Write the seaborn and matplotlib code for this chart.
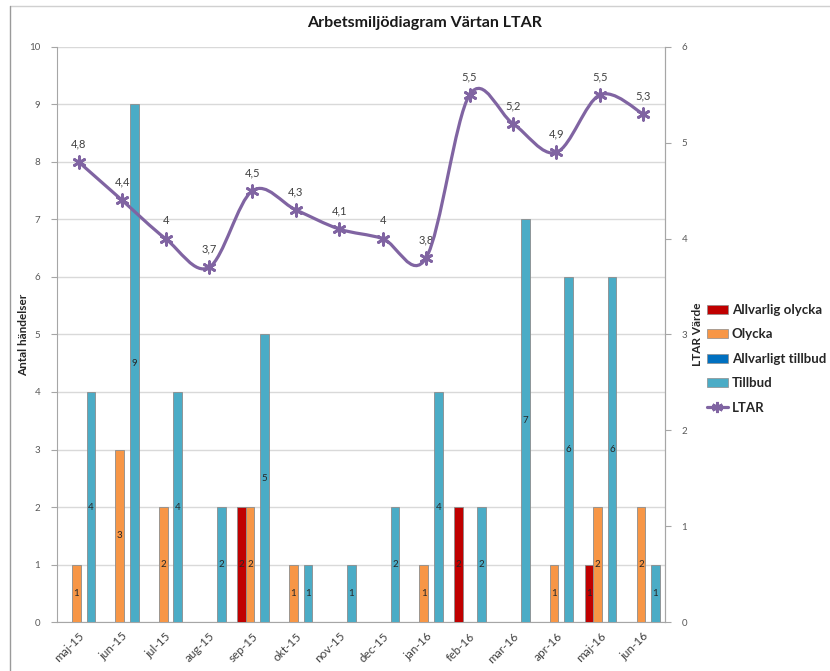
import numpy as np
import pandas as pd
import matplotlib
matplotlib.use("Agg")
import matplotlib.pyplot as plt
import seaborn as sns
from matplotlib.path import Path
from matplotlib.patches import PathPatch, Patch
from matplotlib.lines import Line2D
import matplotlib.ticker as ticker

# data
months = ["maj-15", "jun-15", "jul-15", "aug-15", "sep-15", "okt-15", "nov-15",
          "dec-15", "jan-16", "feb-16", "mar-16", "apr-16", "maj-16", "jun-16"]
allvarlig_olycka = [0, 0, 0, 0, 2, 0, 0, 0, 0, 2, 0, 0, 1, 0]
olycka = [1, 3, 2, 0, 2, 1, 0, 0, 1, 0, 0, 1, 2, 2]
allvarligt_tillbud = [0, 0, 0, 0, 0, 0, 0, 0, 0, 0, 0, 0, 0, 0]
tillbud = [4, 9, 4, 2, 5, 1, 1, 2, 4, 2, 7, 6, 6, 1]
ltar = [4.8, 4.4, 4.0, 3.7, 4.5, 4.3, 4.1, 4.0, 3.8, 5.5, 5.2, 4.9, 5.5, 5.3]

series = [
    ("Allvarlig olycka", allvarlig_olycka, "#C00000", -0.25),
    ("Olycka", olycka, "#F79646", -0.055),
    ("Allvarligt tillbud", allvarligt_tillbud, "#0070C0", 0.11),
    ("Tillbud", tillbud, "#4BACC6", 0.28),
]
line_color = "#8064A2"

sns.set_style("white")
plt.rcParams["font.family"] = ["Lato", "DejaVu Sans"]

fig = plt.figure(figsize=(8.3, 6.71), dpi=100)
ax = fig.add_axes([0.0687, 0.073, 0.7325, 0.857])
idx = np.arange(len(months))

for name, vals, col, off in series:
    df = pd.DataFrame({"x": idx + off, "y": vals})
    n0 = len(ax.patches)
    sns.barplot(data=df, x="x", y="y", native_scale=True, width=0.2, color=col,
                saturation=1, edgecolor="#8C8C8C", linewidth=0.6, ax=ax, zorder=3)
    for p, v in zip(ax.patches[n0:], vals):
        if v == 0:
            p.set_visible(False)
        else:
            ax.text(p.get_x() + p.get_width() / 2, v / 2, str(v), ha="center",
                    va="center", fontsize=7, color="#262626", zorder=4)

ax.set_xlim(-0.5, len(months) - 0.5)
ax.set_ylim(0, 10)
ax.yaxis.set_major_locator(ticker.MultipleLocator(1))
ax.set_xticks(idx)
ax.set_xticklabels(months, rotation=45, ha="right", rotation_mode="anchor",
                   fontsize=8.5, color="#404040")
ax.xaxis.set_minor_locator(ticker.FixedLocator(np.arange(-0.5, len(months), 1)))
ax.tick_params(axis="x", which="major", length=0, pad=6)
ax.tick_params(axis="x", which="minor", length=4, color="#A6A6A6", direction="out")
ax.tick_params(axis="y", length=4, color="#A6A6A6", direction="out",
               labelsize=7, labelcolor="#595959", pad=8)
ax.grid(axis="y", color="#D9D9D9", linewidth=1, zorder=0)
ax.set_axisbelow(True)
ax.set_xlabel("")
ax.set_ylabel("Antal händelser", fontsize=8.5, fontweight="bold")
ax.yaxis.set_label_coords(-0.046, 0.5)
for s in ["left", "bottom", "right"]:
    ax.spines[s].set_color("#A6A6A6")
ax.spines["top"].set_visible(False)

# LTAR line on second axis
ax2 = ax.twinx()
ax2.set_ylim(0, 6)
ax2.yaxis.set_major_locator(ticker.MultipleLocator(1))
ax2.tick_params(axis="y", length=4, color="#A6A6A6", direction="out",
                labelsize=7, labelcolor="#595959", pad=8)
for s in ["left", "bottom", "top"]:
    ax2.spines[s].set_visible(False)
ax2.spines["right"].set_color("#A6A6A6")
ax2.set_ylabel("LTAR Värde", fontsize=8.5, fontweight="bold")
ax2.yaxis.set_label_coords(1.044, 0.5)

pts = np.column_stack([idx, ltar]).astype(float)
verts = [pts[0]]
codes = [Path.MOVETO]
for i in range(len(pts) - 1):
    p_prev = pts[i - 1] if i > 0 else pts[i]
    p_next2 = pts[i + 2] if i + 2 < len(pts) else pts[i + 1]
    c1 = pts[i] + (pts[i + 1] - p_prev) / 6
    c2 = pts[i + 1] - (p_next2 - pts[i]) / 6
    verts += [c1, c2, pts[i + 1]]
    codes += [Path.CURVE4] * 3
ax2.add_patch(PathPatch(Path(verts, codes), facecolor="none", edgecolor=line_color,
                        linewidth=2.3, zorder=5, capstyle="round", joinstyle="round"))
sns.scatterplot(x=idx, y=ltar, marker=(6, 2, 0), s=70, color=line_color,
                edgecolor=line_color, linewidth=2, ax=ax2, zorder=6)
for x, v in zip(idx, ltar):
    lab = (f"{v:.1f}".rstrip("0").rstrip(".")).replace(".", ",")
    ax2.annotate(lab, (x, v), xytext=(0, 9), textcoords="offset points",
                 ha="center", va="bottom", fontsize=8, color="#404040")

fig.text(0.512, 0.965, "Arbetsmiljödiagram Värtan LTAR", ha="center", va="center",
         fontsize=11.5, fontweight="bold", color="#1a1a1a")

handles = [Patch(facecolor=c, edgecolor="#8C8C8C", linewidth=0.5) for _, _, c, _ in series]
handles.append(Line2D([0], [0], color=line_color, linewidth=2.3, marker=(6, 2, 0),
                      markersize=8, markeredgewidth=2))
labels = [n for n, _, _, _ in series] + ["LTAR"]
leg = fig.legend(handles, labels, loc="upper left", bbox_to_anchor=(0.845, 0.555),
                 frameon=False, prop={"size": 9.5, "weight": "bold"},
                 handlelength=1.6, handleheight=0.7, handletextpad=0.3,
                 labelspacing=0.95, borderaxespad=0)

# outer chart frame (top and left edge)
fig.add_artist(Line2D([0.012, 1.0], [0.991, 0.991], transform=fig.transFigure,
                      color="#D0D0D0", linewidth=1))
fig.add_artist(Line2D([0.012, 0.012], [0.0, 0.991], transform=fig.transFigure,
                      color="#9A9A9A", linewidth=1))

fig.savefig("out.png", dpi=100, facecolor="white")
